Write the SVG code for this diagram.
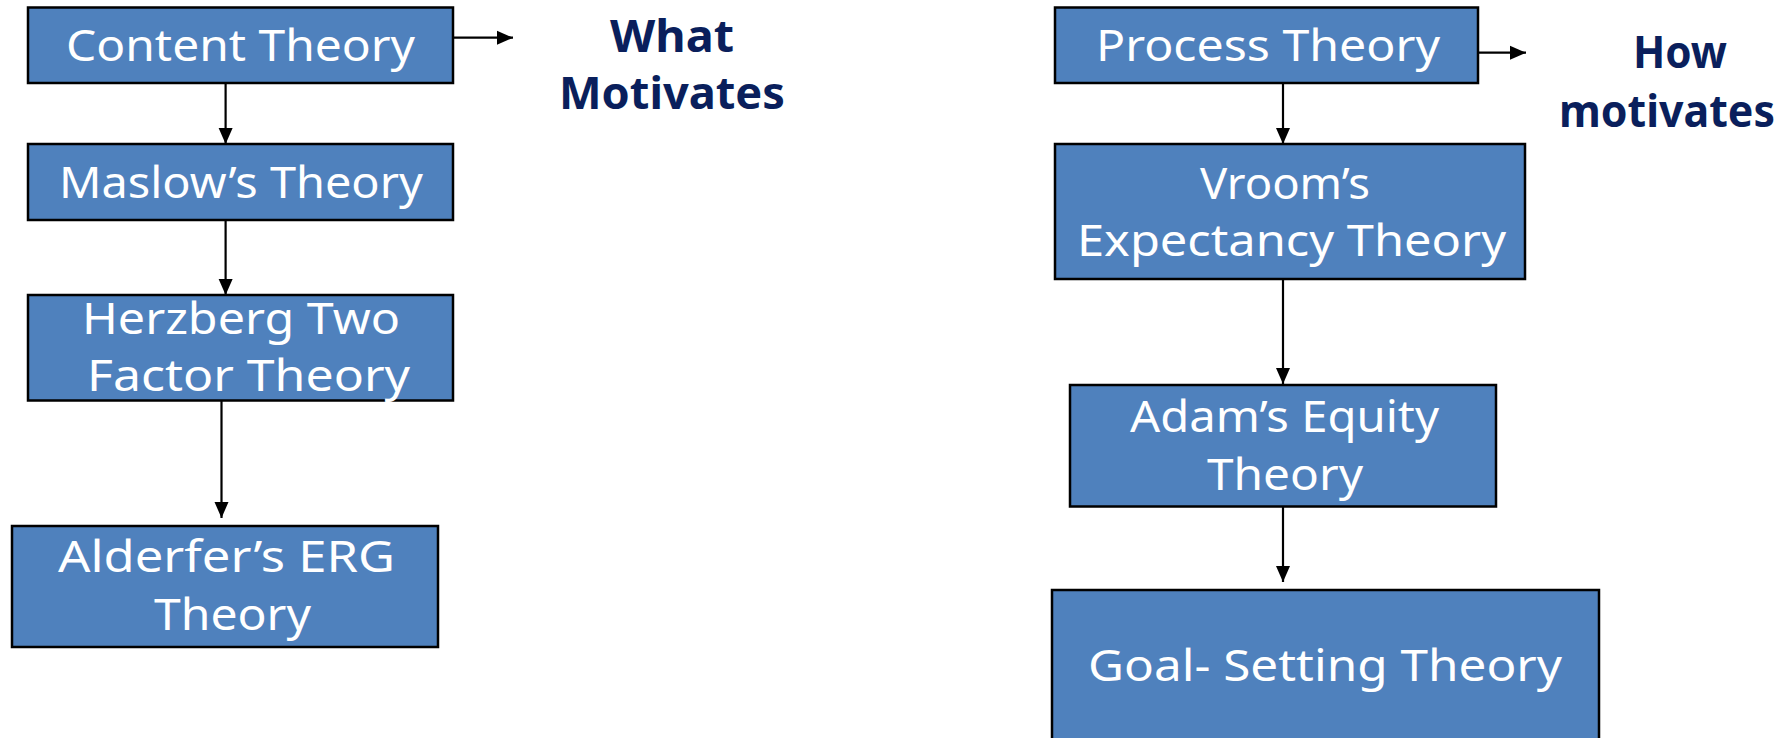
<svg xmlns="http://www.w3.org/2000/svg" width="1785" height="738" viewBox="0 0 1785 738">
<style>
.box{fill:#4f81bd;stroke:#000;stroke-width:2.5}
.t{fill:#fff;font-family:"Comic Sans MS","Noto Sans",sans-serif;font-size:44px;text-anchor:middle}
.h{fill:#0a1f5c;font-family:"Comic Sans MS","Noto Sans",sans-serif;font-size:44px;font-weight:bold;text-anchor:middle}
.c{stroke:#000;stroke-width:2.2;fill:none;marker-end:url(#ah)}
</style>
<defs>
<marker id="ah" markerUnits="userSpaceOnUse" markerWidth="16" markerHeight="16" viewBox="0 0 16 16" refX="16" refY="8" orient="auto">
<path d="M0,1 L16,8 L0,15 Z" fill="#000"/>
</marker>
</defs>
<rect width="1785" height="738" fill="#fff"/>
<g id="connectors">
<line class="c" x1="453" y1="37.7" x2="513" y2="37.7"/>
<line class="c" x1="225.6" y1="83" x2="225.6" y2="144"/>
<line class="c" x1="225.6" y1="220" x2="225.6" y2="295"/>
<line class="c" x1="221.5" y1="400" x2="221.5" y2="518"/>
<line class="c" x1="1478" y1="52.7" x2="1526" y2="52.7"/>
<line class="c" x1="1283" y1="83" x2="1283" y2="144"/>
<line class="c" x1="1283" y1="279" x2="1283" y2="384"/>
<line class="c" x1="1283" y1="507" x2="1283" y2="582"/>
</g>
<g id="content-theory">
<rect class="box" x="28" y="7.5" width="425" height="75.5"/>
<text class="t" x="240.5" y="61" textLength="349" lengthAdjust="spacingAndGlyphs">Content Theory</text>
</g>
<g id="what-motivates">
<text class="h" x="672" y="52" textLength="124" lengthAdjust="spacingAndGlyphs">What</text>
<text class="h" x="672" y="109" textLength="226" lengthAdjust="spacingAndGlyphs">Motivates</text>
</g>
<g id="maslow">
<rect class="box" x="28" y="144" width="425" height="76"/>
<text class="t" x="241" y="198" textLength="364" lengthAdjust="spacingAndGlyphs">Maslow’s Theory</text>
</g>
<g id="herzberg">
<rect class="box" x="28" y="295" width="425" height="105.5"/>
<text class="t" x="241" y="334" textLength="318" lengthAdjust="spacingAndGlyphs">Herzberg Two</text>
<text class="t" x="248.5" y="391" textLength="323" lengthAdjust="spacingAndGlyphs">Factor Theory</text>
</g>
<g id="alderfer">
<rect class="box" x="12" y="526" width="426" height="121"/>
<text class="t" x="226.5" y="572" textLength="337" lengthAdjust="spacingAndGlyphs">Alderfer’s ERG</text>
<text class="t" x="232.5" y="630" textLength="157" lengthAdjust="spacingAndGlyphs">Theory</text>
</g>
<g id="process-theory">
<rect class="box" x="1055" y="7.5" width="423" height="75.5"/>
<text class="t" x="1268" y="61" textLength="344" lengthAdjust="spacingAndGlyphs">Process Theory</text>
</g>
<g id="how-motivates">
<text class="h" x="1680" y="68" textLength="94" lengthAdjust="spacingAndGlyphs">How</text>
<text class="h" x="1667" y="127" textLength="216" lengthAdjust="spacingAndGlyphs">motivates</text>
</g>
<g id="vroom">
<rect class="box" x="1055" y="144" width="470" height="135"/>
<text class="t" x="1285" y="199" textLength="170" lengthAdjust="spacingAndGlyphs">Vroom’s</text>
<text class="t" x="1291.5" y="256" textLength="429" lengthAdjust="spacingAndGlyphs">Expectancy Theory</text>
</g>
<g id="adam">
<rect class="box" x="1070" y="385" width="426" height="121.5"/>
<text class="t" x="1284.5" y="432" textLength="309" lengthAdjust="spacingAndGlyphs">Adam’s Equity</text>
<text class="t" x="1285" y="490" textLength="156" lengthAdjust="spacingAndGlyphs">Theory</text>
</g>
<g id="goal-setting">
<rect class="box" x="1052" y="590" width="547" height="160"/>
<text class="t" x="1325" y="681" textLength="474" lengthAdjust="spacingAndGlyphs">Goal- Setting Theory</text>
</g>
</svg>
